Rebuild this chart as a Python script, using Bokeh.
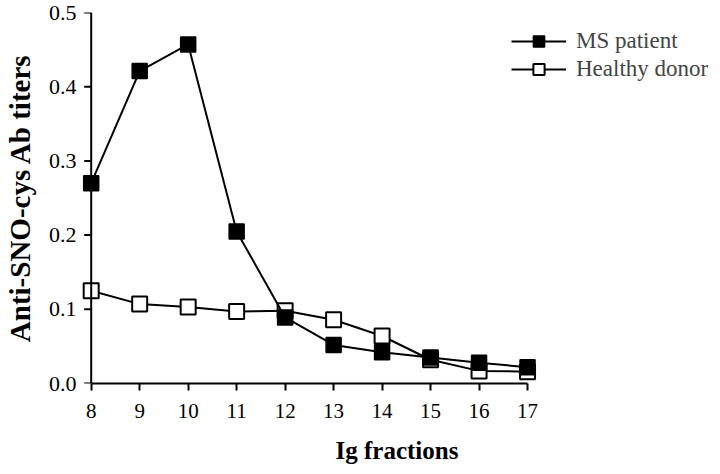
import math
from bokeh.plotting import figure
from bokeh.models import Range1d, FixedTicker, Legend, LegendItem, CustomJSTickFormatter, Span
from bokeh.embed import file_html
from bokeh.resources import INLINE

fractions = [8, 9, 10, 11, 12, 13, 14, 15, 16, 17]
ms_patient = [0.270, 0.421, 0.457, 0.205, 0.089, 0.052, 0.042, 0.035, 0.028, 0.022]
healthy_donor = [0.125, 0.107, 0.103, 0.097, 0.098, 0.086, 0.064, 0.032, 0.017, 0.016]
x_ticks = [8, 9, 10, 11, 12, 13, 14, 15, 16, 17]
y_ticks = [0.0, 0.1, 0.2, 0.3, 0.4, 0.5]

FONT = "'Liberation Serif', 'Times New Roman', serif"

p = figure(width=712, height=466, output_backend="svg", toolbar_location=None,
           x_range=Range1d(7.8, 20.815), y_range=Range1d(0, 0.5),
           min_border_left=80, min_border_right=0, min_border_top=12, min_border_bottom=83)
p.outline_line_color = None
p.grid.visible = False
p.background_fill_color = "white"

for ax in (p.xaxis[0], p.yaxis[0]):
    ax.axis_line_width = 2
    ax.major_tick_line_width = 2
    ax.major_tick_out = 7
    ax.major_tick_in = 0
    ax.minor_tick_line_color = None
    ax.major_label_text_font = FONT
    ax.major_label_text_color = "black"
    ax.axis_label_text_font = FONT
    ax.axis_label_text_font_style = "bold"
    ax.axis_label_text_color = "black"

p.xaxis.bounds = (8, 17)
p.xaxis.ticker = FixedTicker(ticks=x_ticks)
p.xaxis.axis_label = "Ig fractions"
p.xaxis.major_label_text_font_size = "21px"
p.xaxis.axis_label_text_font_size = "25px"
p.xaxis.axis_label_standoff = 16
p.xaxis.major_label_standoff = 13

# y axis: labels from the axis, line and ticks drawn at x = 8
p.yaxis.ticker = FixedTicker(ticks=y_ticks)
p.yaxis.formatter = CustomJSTickFormatter(code="return tick.toFixed(1);")
p.yaxis.axis_label = "Anti-SNO-cys Ab titers"
p.yaxis.major_label_text_font_size = "22px"
p.yaxis.axis_label_text_font_size = "29px"
p.yaxis.axis_line_color = None
p.yaxis.major_tick_line_color = None
p.yaxis.major_tick_out = 0
p.yaxis.axis_label_standoff = 10
p.yaxis.major_label_standoff = 5

p.add_layout(Span(location=x_ticks[0], dimension="height", line_color="black", line_width=2))
p.ray(x=[x_ticks[0]] * len(y_ticks), y=y_ticks, length=7, length_units="screen",
      angle=math.pi, line_color="black", line_width=2)

l2 = p.line(fractions, healthy_donor, line_color="black", line_width=2)
m2 = p.scatter(fractions, healthy_donor, marker="square", size=15, fill_color="white",
               line_color="black", line_width=2)
l1 = p.line(fractions, ms_patient, line_color="black", line_width=2)
m1 = p.scatter(fractions, ms_patient, marker="square", size=15, fill_color="black",
               line_color="black", line_width=1.5)

legend = Legend(items=[LegendItem(label="MS patient", renderers=[l1, m1]),
                       LegendItem(label="Healthy donor", renderers=[l2, m2])],
                location=(430, 300))
legend.border_line_color = None
legend.background_fill_alpha = 0
legend.label_text_font = FONT
legend.label_text_font_size = "23px"
legend.glyph_width = 55
legend.glyph_height = 28
legend.label_height = 28
legend.label_standoff = 10
legend.spacing = 0
legend.margin = 0
legend.padding = 0
p.add_layout(legend)

open("out.html", "w").write(file_html(p, INLINE))
